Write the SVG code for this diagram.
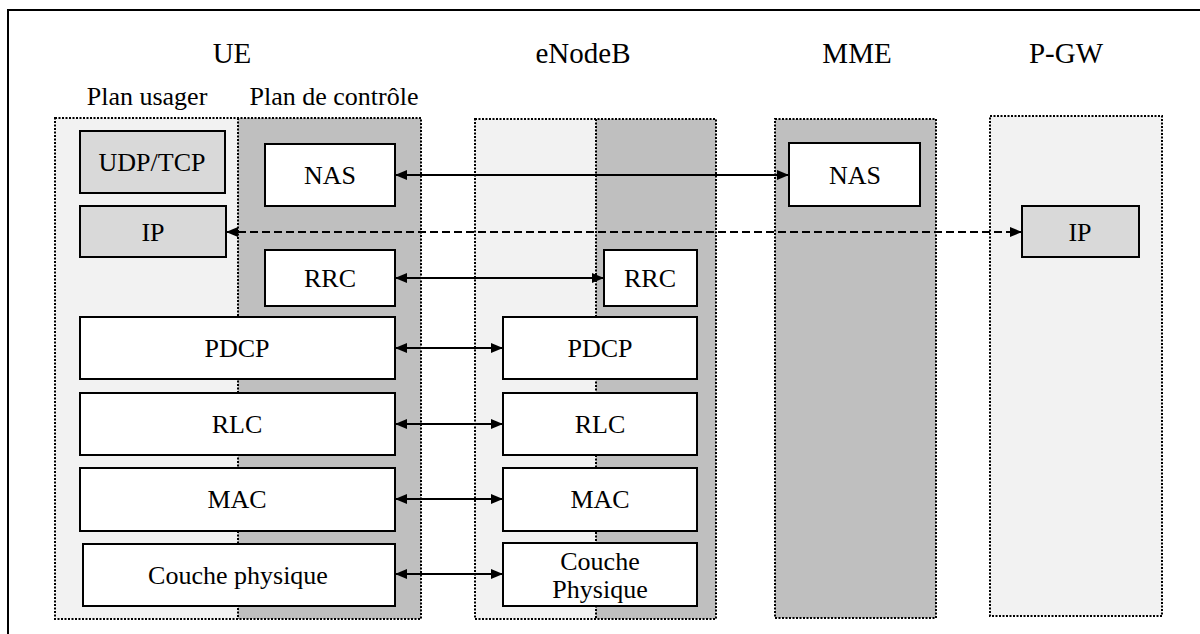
<svg xmlns="http://www.w3.org/2000/svg" width="1200" height="634" viewBox="0 0 1200 634">
<style>
text{font-family:"Liberation Serif","DejaVu Serif","Times New Roman",serif;fill:#000;text-anchor:middle}
.t{font-size:29px}
.s{font-size:26px}
.l{font-size:26px}
.grp{stroke:#000;stroke-width:2;stroke-dasharray:2,1.5;fill:none}
.lt{fill:#f2f2f2}
.dk{fill:#bfbfbf}
.box{fill:#fff;stroke:#000;stroke-width:2}
.gbox{fill:#d9d9d9;stroke:#000;stroke-width:2}
.con{stroke:#000;stroke-width:1.8;fill:none}
.dash{stroke-dasharray:8,4}
</style>
<defs>
<marker id="ah" viewBox="0 0 12 10" refX="12" refY="5" markerWidth="12" markerHeight="10" markerUnits="userSpaceOnUse" orient="auto-start-reverse">
<path d="M0,0 L12,5 L0,10 z" fill="#000"/>
</marker>
</defs>
<rect x="8" y="10" width="1220" height="700" fill="#fff" stroke="#000" stroke-width="2"/>
<g id="titles">
<text class="t" x="232" y="63" font-family="Liberation Serif, serif">UE</text>
<text class="t" x="583" y="63" font-family="Liberation Serif, serif">eNodeB</text>
<text class="t" x="857" y="63" font-family="Liberation Serif, serif">MME</text>
<text class="t" x="1066" y="63" font-family="Liberation Serif, serif">P-GW</text>
<text class="s" x="147" y="105" font-family="Liberation Serif, serif">Plan usager</text>
<text class="s" x="334" y="105" font-family="Liberation Serif, serif">Plan de contrôle</text>
</g>
<g id="ue-zone">
<rect class="lt" x="55" y="118" width="183" height="501"/>
<rect class="dk" x="238" y="118" width="183" height="501"/>
<rect class="grp" x="55" y="118" width="366" height="501"/>
<line class="grp" x1="238" y1="118" x2="238" y2="619"/>
</g>
<g id="enb-zone">
<rect class="lt" x="475" y="119" width="121" height="500"/>
<rect class="dk" x="596" y="119" width="120" height="500"/>
<rect class="grp" x="475" y="119" width="241" height="500"/>
<line class="grp" x1="596" y1="119" x2="596" y2="619"/>
</g>
<g id="mme-zone">
<rect class="dk" x="775" y="119" width="161" height="499"/>
<rect class="grp" x="775" y="119" width="161" height="499"/>
</g>
<g id="pgw-zone">
<rect class="lt" x="990" y="116" width="172" height="500"/>
<rect class="grp" x="990" y="116" width="172" height="500"/>
</g>
<g id="connectors">
<line class="con" x1="395" y1="175" x2="789" y2="175" marker-start="url(#ah)" marker-end="url(#ah)"/>
<line class="con dash" x1="226" y1="232" x2="1022" y2="232" marker-start="url(#ah)" marker-end="url(#ah)"/>
<line class="con" x1="395" y1="278" x2="604" y2="278" marker-start="url(#ah)" marker-end="url(#ah)"/>
<line class="con" x1="395" y1="348" x2="503" y2="348" marker-start="url(#ah)" marker-end="url(#ah)"/>
<line class="con" x1="395" y1="424" x2="503" y2="424" marker-start="url(#ah)" marker-end="url(#ah)"/>
<line class="con" x1="395" y1="499" x2="503" y2="499" marker-start="url(#ah)" marker-end="url(#ah)"/>
<line class="con" x1="395" y1="574" x2="503" y2="574" marker-start="url(#ah)" marker-end="url(#ah)"/>
</g>
<g id="ue-udptcp"><rect class="gbox" x="80" y="131" width="145" height="62"/><text class="l" x="152" y="171">UDP/TCP</text></g>
<g id="ue-nas"><rect class="box" x="265" y="144" width="130" height="62"/><text class="l" x="330" y="184">NAS</text></g>
<g id="ue-ip"><rect class="gbox" x="80" y="206" width="146" height="51"/><text class="l" x="153" y="241">IP</text></g>
<g id="ue-rrc"><rect class="box" x="265" y="250" width="130" height="56"/><text class="l" x="330" y="287">RRC</text></g>
<g id="ue-pdcp"><rect class="box" x="80" y="317" width="315" height="62"/><text class="l" x="237" y="357">PDCP</text></g>
<g id="ue-rlc"><rect class="box" x="80" y="393" width="315" height="62"/><text class="l" x="237" y="433">RLC</text></g>
<g id="ue-mac"><rect class="box" x="80" y="468" width="315" height="63"/><text class="l" x="237" y="508">MAC</text></g>
<g id="ue-phy"><rect class="box" x="83" y="544" width="312" height="62"/><text class="l" x="238" y="584">Couche physique</text></g>
<g id="enb-rrc"><rect class="box" x="604" y="250" width="93" height="56"/><text class="l" x="650" y="287">RRC</text></g>
<g id="enb-pdcp"><rect class="box" x="503" y="317" width="194" height="62"/><text class="l" x="600" y="357">PDCP</text></g>
<g id="enb-rlc"><rect class="box" x="503" y="393" width="194" height="62"/><text class="l" x="600" y="433">RLC</text></g>
<g id="enb-mac"><rect class="box" x="503" y="468" width="194" height="63"/><text class="l" x="600" y="508">MAC</text></g>
<g id="enb-phy"><rect class="box" x="503" y="543" width="194" height="63"/><text class="l" x="600" y="570">Couche</text><text class="l" x="600" y="598">Physique</text></g>
<g id="mme-nas"><rect class="box" x="789" y="143" width="131" height="63"/><text class="l" x="855" y="184">NAS</text></g>
<g id="pgw-ip"><rect class="gbox" x="1022" y="206" width="117" height="51"/><text class="l" x="1080" y="241">IP</text></g>
</svg>
